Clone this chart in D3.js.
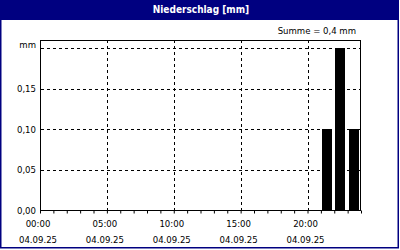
<!DOCTYPE html>
<html>
<head>
<meta charset="utf-8">
<script src="https://cdn.jsdelivr.net/npm/d3@7"></script>
<style>
  html, body { margin: 0; padding: 0; background: #fff; }
  svg { display: block; }
  text { font-family: "DejaVu Sans Condensed", "DejaVu Sans", sans-serif; font-stretch: condensed; }
</style>
</head>
<body>
<div id="chart"></div>
<script>
// --- data ---
const hours = [0, 1, 2, 3, 4, 5, 6, 7, 8, 9, 10, 11, 12, 13, 14, 15, 16, 17, 18, 19, 20, 21, 22, 23];
const rain = [0, 0, 0, 0, 0, 0, 0, 0, 0, 0, 0, 0, 0, 0, 0, 0, 0, 0, 0, 0, 0, 0.1, 0.2, 0.1];
const xTickHours = [0, 5, 10, 15, 20];
const xTimeLabels = ['00:00', '05:00', '10:00', '15:00', '20:00'];
const xDateLabel = '04.09.25';
const yTicks = [0, 0.05, 0.10, 0.15, 0.20];
const yTickLabels = ['0,00', '0,05', '0,10', '0,15', 'mm'];
const title = 'Niederschlag [mm]';
const sumLabel = 'Summe = 0,4 mm';

const W = 400, H = 250;
const navy = '#000080';
const plot = { left: 40, right: 361, top: 40, bottom: 210 };

const svg = d3.select('#chart').append('svg')
    .attr('width', W)
    .attr('height', H);

// frame + header band
svg.append('rect')
    .attr('x', 0).attr('y', 0)
    .attr('width', W).attr('height', H)
    .attr('fill', '#fff');
svg.append('rect')
    .attr('x', 0).attr('y', 0)
    .attr('width', 399).attr('height', 20)
    .attr('fill', navy);
svg.append('rect')
    .attr('x', 0.75).attr('y', 0.75)
    .attr('width', 397.5).attr('height', 247)
    .attr('fill', 'none')
    .attr('stroke', navy)
    .attr('stroke-width', 1.5);

svg.append('text')
    .attr('x', 201).attr('y', 13)
    .attr('text-anchor', 'middle')
    .attr('fill', '#fff')
    .attr('font-size', '10px')
    .attr('font-weight', 'bold')
    .text(title);

svg.append('text')
    .attr('x', 356).attr('y', 34)
    .attr('text-anchor', 'end')
    .attr('fill', '#000')
    .attr('font-size', '9.5px')
    .text(sumLabel);

// --- scales ---
const x = d3.scaleLinear().domain([0, 24]).range([plot.left, plot.right]);
const y = d3.scaleLinear().domain([0, 0.21]).range([plot.bottom, plot.top]);

// --- grid ---
svg.append('g')
    .selectAll('line.hgrid')
    .data(yTicks.slice(1))
    .enter().append('line')
    .attr('x1', plot.left + 1).attr('x2', plot.right)
    .attr('y1', d => Math.round(y(d)) + 0.5)
    .attr('y2', d => Math.round(y(d)) + 0.5)
    .attr('stroke', '#000')
    .attr('stroke-dasharray', '3,3');

svg.append('g')
    .selectAll('line.vgrid')
    .data(xTickHours.slice(1))
    .enter().append('line')
    .attr('x1', d => Math.round(x(d)) + 0.5)
    .attr('x2', d => Math.round(x(d)) + 0.5)
    .attr('y1', plot.top).attr('y2', plot.bottom)
    .attr('stroke', '#000')
    .attr('stroke-dasharray', '3,3');

// --- bars ---
const step = x(1) - x(0);
svg.append('g')
    .selectAll('rect')
    .data(hours.map((h, i) => ({ h, v: rain[i] })).filter(d => d.v > 0))
    .enter().append('rect')
    .attr('x', d => Math.round(x(d.h)) + 1)
    .attr('width', Math.round(step * 0.75))
    .attr('y', d => Math.round(y(d.v)))
    .attr('height', d => plot.bottom - Math.round(y(d.v)))
    .attr('fill', '#000');

// --- plot border ---
svg.append('rect')
    .attr('x', plot.left + 0.5).attr('y', plot.top + 0.5)
    .attr('width', plot.right - plot.left - 1)
    .attr('height', plot.bottom - plot.top)
    .attr('fill', 'none')
    .attr('stroke', '#000');

// --- x axis: hourly ticks + labels ---
const xAxis = d3.axisBottom(x)
    .tickValues(hours.concat([24]))
    .tickSize(3)
    .tickFormat('');
const gx = svg.append('g')
    .attr('transform', `translate(0,${plot.bottom + 0.5})`)
    .call(xAxis);
gx.select('.domain').remove();
gx.selectAll('.tick line').attr('stroke', '#000');

const xl = svg.append('g')
    .selectAll('g')
    .data(xTickHours)
    .enter().append('g')
    .attr('transform', d => `translate(${x(d) - 2},0)`);
xl.append('text')
    .attr('y', 227)
    .attr('text-anchor', 'middle')
    .attr('font-size', '9.5px')
    .attr('fill', '#000')
    .text((d, i) => xTimeLabels[i]);
xl.append('text')
    .attr('y', 243)
    .attr('text-anchor', 'middle')
    .attr('font-size', '9.5px')
    .attr('fill', '#000')
    .text(xDateLabel);

// --- y labels ---
svg.append('g')
    .selectAll('text')
    .data(yTicks)
    .enter().append('text')
    .attr('x', 36)
    .attr('y', (d, i) => y(d) + (i === yTicks.length - 1 ? 0 : 3.5))
    .attr('text-anchor', 'end')
    .attr('font-size', '9.5px')
    .attr('fill', '#000')
    .text((d, i) => yTickLabels[i]);
</script>
</body>
</html>
